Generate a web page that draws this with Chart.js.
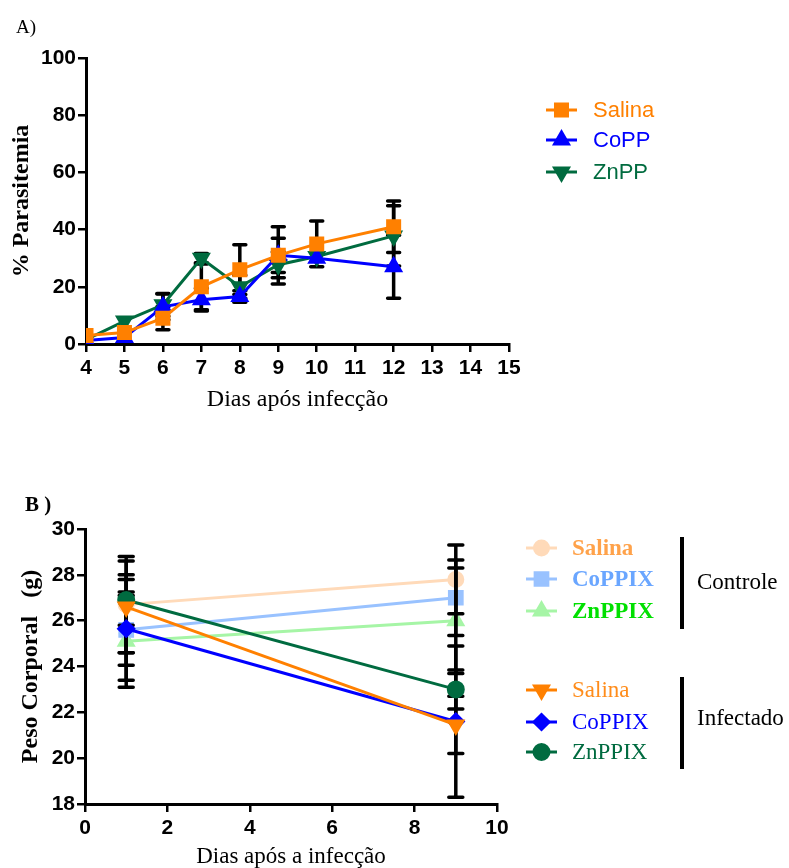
<!DOCTYPE html>
<html>
<head>
<meta charset="utf-8">
<script src="https://cdn.jsdelivr.net/npm/chart.js@4.4.1/dist/chart.umd.min.js"></script>
<style>
  html, body { margin: 0; padding: 0; background: #fff; overflow: hidden; }
  #wrapA { position: absolute; left: 0; top: 0; width: 789px; height: 440px; }
  #wrapB { position: absolute; left: 0; top: 440px; width: 789px; height: 428px; }
</style>
</head>
<body>
<div id="wrapA"><canvas id="chartA"></canvas></div>
<div id="wrapB"><canvas id="chartB"></canvas></div>
<script>
// --- Painel A : parasitemia ---
const diasA = [4, 5, 6, 7, 8, 9, 10, 12];
const salinaA = [3, 4, 9, 20, 26, 31, 35, 41];
const salinaErrA = [0, 0, 4, 8, 8.7, 10, 8, 9];
const coppA = [1.2, 2.3, 13, 15.5, 16.6, 31, 30, 27];
const coppErrA = [0, 0, 4.5, 4, 2, 6, 0, 11];
const znppA = [1.5, 8, 13.7, 30, 20, 27.7, 30.6, 37.8];
const znppErrA = [0, 0, 4, 1.6, 4, 4.5, 0, 10.5];
const ticksXA = [4, 15];
const ticksYA = [0, 100];

// --- Painel B : peso corporal ---
const diasB = [1, 9];
const ctrlSalinaB = [26.7, 27.8];
const ctrlSalinaErrB = [2.1, 1.5];
const ctrlCoppixB = [25.6, 27.0];
const ctrlCoppixErrB = [2.2, 1.65];
const ctrlZnppixB = [25.1, 26.0];
const ctrlZnppixErrB = [2.0, 2.3];
const infSalinaB = [26.6, 21.45];
const infSalinaErrB = [2.0, 1.25];
const infCoppixB = [25.65, 21.6];
const infCoppixErrB = [1.6, 3.3];
const infZnppixB = [26.9, 23.0];
const infZnppixErrB = [1.1, 0.85];
const ticksXB = [0, 10];
const ticksYB = [18, 30];

const SANS = "'Liberation Sans', Arial, sans-serif";
const SERIF = "'Liberation Serif', 'Times New Roman', serif";

function pts(xs, ys) {
  return xs.map((x, i) => ({ x: x, y: ys[i] }));
}

// barras de erro, desenhadas com as escalas do gráfico
function drawErrors(chart) {
  const ctx = chart.ctx;
  const xS = chart.scales.x, yS = chart.scales.y;
  const capW = chart.options.plugins.errorBars.cap;
  ctx.save();
  ctx.strokeStyle = '#000';
  ctx.lineWidth = 3.5;
  ctx.lineCap = 'round';
  chart.data.datasets.forEach(ds => {
    if (!ds.errors) return;
    ds.data.forEach((p, i) => {
      const e = ds.errors[i];
      if (!e) return;
      const x = xS.getPixelForValue(p.x);
      const yT = yS.getPixelForValue(p.y + e);
      const yB = yS.getPixelForValue(Math.max(p.y - e, yS.min));
      ctx.beginPath();
      ctx.moveTo(x, yT); ctx.lineTo(x, yB);
      ctx.moveTo(x - capW, yT); ctx.lineTo(x + capW, yT);
      ctx.moveTo(x - capW, yB); ctx.lineTo(x + capW, yB);
      ctx.stroke();
    });
  });
  ctx.restore();
}

const errorBars = {
  id: 'errorBars',
  beforeDatasetsDraw(chart, args, opts) {
    if (opts.afterIndex === undefined) drawErrors(chart);
  },
  afterDatasetDraw(chart, args, opts) {
    if (opts.afterIndex === args.index) drawErrors(chart);
  }
};

// legenda lateral + textos extras
const sideLegend = {
  id: 'sideLegend',
  afterDraw(chart, args, opts) {
    const ctx = chart.ctx;
    ctx.save();
    opts.items.forEach(it => {
      const ds = chart.data.datasets[it.index];
      ctx.strokeStyle = ds.borderColor;
      ctx.lineWidth = 3;
      ctx.beginPath();
      ctx.moveTo(opts.x0, it.y); ctx.lineTo(opts.x1, it.y);
      ctx.stroke();
      ctx.fillStyle = ds.pointBackgroundColor;
      ctx.strokeStyle = ds.pointBackgroundColor;
      Chart.helpers.drawPoint(ctx, {
        pointStyle: ds.pointStyle,
        rotation: ds.pointRotation || 0,
        radius: ds.pointRadius,
        borderWidth: 1
      }, (opts.x0 + opts.x1) / 2, it.y);
      ctx.fillStyle = ds.legendColor || ds.borderColor;
      ctx.font = it.font || opts.font;
      ctx.textBaseline = 'middle';
      ctx.textAlign = 'left';
      ctx.fillText(ds.label, opts.tx, it.y + 1);
    });
    (opts.texts || []).forEach(t => {
      ctx.fillStyle = '#000';
      ctx.font = t.font;
      ctx.textBaseline = 'alphabetic';
      ctx.fillText(t.text, t.x, t.y);
    });
    (opts.bars || []).forEach(b => {
      ctx.strokeStyle = '#000';
      ctx.lineWidth = 4;
      ctx.beginPath();
      ctx.moveTo(b.x, b.y0); ctx.lineTo(b.x, b.y1);
      ctx.stroke();
    });
    ctx.restore();
  }
};

function axisX(min, max, step, width, title, titleFont, titlePad) {
  return {
    type: 'linear', min: min, max: max,
    afterFit: s => { s.height = width; },
    ticks: { stepSize: step, color: '#000', padding: 4, font: { family: SANS, size: 21, weight: 'bold' } },
    grid: { drawOnChartArea: false, drawTicks: true, tickLength: 8, color: '#000', lineWidth: 2.5 },
    border: { color: '#000', width: 3 },
    title: { display: true, text: title, color: '#000', font: titleFont, padding: titlePad }
  };
}
function axisY(min, max, step, width, title, titleFont, titlePad) {
  return {
    type: 'linear', min: min, max: max,
    afterFit: s => { s.width = width; },
    ticks: { stepSize: step, color: '#000', padding: 2, font: { family: SANS, size: 21, weight: 'bold' } },
    grid: { drawOnChartArea: false, drawTicks: true, tickLength: 8, color: '#000', lineWidth: 2.5 },
    border: { color: '#000', width: 3 },
    title: { display: true, text: title, color: '#000', font: titleFont, padding: titlePad }
  };
}

function serie(label, xs, ys, errs, color, style, radius, extra) {
  return Object.assign({
    label: label,
    data: pts(xs, ys),
    errors: errs,
    borderColor: color,
    backgroundColor: color,
    pointBackgroundColor: color,
    pointBorderColor: color,
    pointStyle: style,
    pointRadius: radius,
    pointHoverRadius: radius,
    borderWidth: 3,
    tension: 0
  }, extra || {});
}

new Chart(document.getElementById('chartA'), {
  type: 'line',
  data: {
    datasets: [
      serie('Salina', diasA, salinaA, salinaErrA, '#FF8000', 'rect', 8.5),
      serie('CoPP', diasA, coppA, coppErrA, '#0000FF', 'triangle', 8),
      serie('ZnPP', diasA, znppA, znppErrA, '#006B3F', 'triangle', 8, { pointRotation: 180 })
    ]
  },
  options: {
    responsive: true,
    maintainAspectRatio: false,
    animation: false,
    layout: { padding: { top: 58, right: 280, left: 0, bottom: 0 } },
    scales: {
      x: axisX(ticksXA[0], ticksXA[1], 1, 96, 'Dias após infecção', { family: SERIF, size: 24 }, { bottom: 26 }),
      y: axisY(ticksYA[0], ticksYA[1], 20, 86, '% Parasitemia', { family: SERIF, size: 24, weight: 'bold' }, { top: 7 })
    },
    plugins: {
      legend: { display: false },
      tooltip: { enabled: false },
      errorBars: { cap: 6 },
      sideLegend: {
        x0: 546, x1: 577, tx: 593,
        font: '22px ' + SANS,
        items: [{ index: 0, y: 110 }, { index: 1, y: 140 }, { index: 2, y: 172 }],
        texts: [{ text: 'A)', x: 16, y: 33, font: '19px ' + SERIF }]
      }
    }
  },
  plugins: [errorBars, sideLegend]
});

const BOLD = 'bold 23px ' + SERIF;
const REG = '23px ' + SERIF;

new Chart(document.getElementById('chartB'), {
  type: 'line',
  data: {
    datasets: [
      serie('Salina', diasB, ctrlSalinaB, ctrlSalinaErrB, '#FFDAB9', 'circle', 7, { order: 2, legendColor: '#FFA24A' }),
      serie('CoPPIX', diasB, ctrlCoppixB, ctrlCoppixErrB, '#99C2FF', 'rect', 9, { order: 2, legendColor: '#6AA6FF' }),
      serie('ZnPPIX', diasB, ctrlZnppixB, ctrlZnppixErrB, '#A6F5A6', 'triangle', 8, { order: 2, legendColor: '#00E000' }),
      serie('Salina', diasB, infSalinaB, infSalinaErrB, '#FF8000', 'triangle', 8, { order: 1, pointRotation: 180, legendColor: '#FF8C1A' }),
      serie('CoPPIX', diasB, infCoppixB, infCoppixErrB, '#0000FF', 'rectRot', 7.5, { order: 1 }),
      serie('ZnPPIX', diasB, infZnppixB, infZnppixErrB, '#006B40', 'circle', 7.5, { order: 1 })
    ]
  },
  options: {
    responsive: true,
    maintainAspectRatio: false,
    animation: false,
    layout: { padding: { top: 89, right: 292, left: 0, bottom: 0 } },
    scales: {
      x: axisX(ticksXB[0], ticksXB[1], 2, 64, 'Dias após a infecção', { family: SERIF, size: 23, lineHeight: 1 }, { bottom: 0 }),
      y: axisY(ticksYB[0], ticksYB[1], 2, 85, 'Peso Corporal   (g)', { family: SERIF, size: 24, weight: 'bold' }, { top: 16 })
    },
    plugins: {
      legend: { display: false },
      tooltip: { enabled: false },
      errorBars: { cap: 7, afterIndex: 0 },
      sideLegend: {
        x0: 526, x1: 557, tx: 572,
        font: REG,
        items: [
          { index: 0, y: 108, font: BOLD },
          { index: 1, y: 139, font: BOLD },
          { index: 2, y: 171, font: BOLD },
          { index: 3, y: 250 },
          { index: 4, y: 282 },
          { index: 5, y: 312 }
        ],
        texts: [
          { text: 'B )', x: 25, y: 71, font: 'bold 21px ' + SERIF },
          { text: 'Controle', x: 697, y: 149, font: '23px ' + SERIF },
          { text: 'Infectado', x: 697, y: 285, font: '23px ' + SERIF }
        ],
        bars: [{ x: 682, y0: 97, y1: 189 }, { x: 682, y0: 237, y1: 329 }]
      }
    }
  },
  plugins: [errorBars, sideLegend]
});
</script>
</body>
</html>
